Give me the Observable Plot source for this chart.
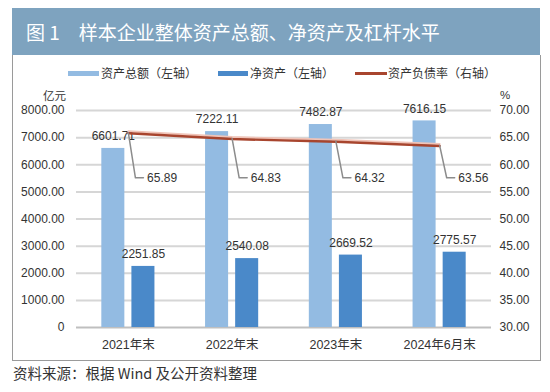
<!DOCTYPE html>
<html><head><meta charset="utf-8">
<script src="https://cdn.jsdelivr.net/npm/d3@7"></script>
<script src="https://cdn.jsdelivr.net/npm/@observablehq/plot@0.6"></script>
<style>
body{margin:0;background:#fff;font-family:"Liberation Sans","Noto Sans CJK SC",sans-serif;color:#333}
#wrap{position:relative;width:550px;height:392px;overflow:hidden;background:#fff}
#header{position:absolute;left:12px;top:8px;width:528px;height:47px;background:#7ea3bf;color:#fff;font-family:"Noto Sans CJK SC",sans-serif;font-size:19px;line-height:47px;white-space:nowrap}
#panel{position:absolute;left:12px;top:55px;width:527px;height:305px;border:1px solid #9a9a9a;border-top:none;pointer-events:none}
#chart{position:absolute;left:0;top:0}
.lg{position:absolute;font-family:"Noto Sans CJK SC",sans-serif;font-size:12px;line-height:14px;white-space:nowrap;color:#333}
.sw{position:absolute}
.note{position:absolute;font-family:"Noto Sans CJK SC",sans-serif;white-space:nowrap;color:#333}
</style></head>
<body><div id="wrap">
<div id="chart"></div>
<div id="header"><span style="margin-left:14px">图 1</span><span style="margin-left:19px">样本企业整体资产总额、净资产及杠杆水平</span></div>
<div id="panel"></div>
<div class="sw" style="left:68px;top:71px;width:31px;height:5px;background:#93bbe2"></div>
<div class="lg" style="left:101px;top:66px">资产总额（左轴）</div>
<div class="sw" style="left:218px;top:71px;width:30px;height:5px;background:#4a89c9"></div>
<div class="lg" style="left:250px;top:66px">净资产（左轴）</div>
<div class="sw" style="left:355px;top:72px;width:32px;height:3px;background:#a8452e"></div>
<div class="lg" style="left:388px;top:66px">资产负债率（右轴）</div>
<div class="note" style="left:43px;top:88px;font-size:11.5px;line-height:14px">亿元</div>
<div class="note" style="left:500px;top:88px;font-size:11.5px;line-height:14px;font-family:'Liberation Sans',sans-serif">%</div>
<div class="note" style="left:13px;top:364px;font-size:14.5px;line-height:18px">资料来源：根据 Wind 及公开资料整理</div>
</div>
<script>
const categories = ["2021年末", "2022年末", "2023年末", "2024年6月末"];
const totalAssets = [6601.71, 7222.11, 7482.87, 7616.15];
const netAssets = [2251.85, 2540.08, 2669.52, 2775.57];
const debtRatio = [65.89, 64.83, 64.32, 63.56];
const leftTicks = [0, 1000, 2000, 3000, 4000, 5000, 6000, 7000, 8000];
const rightTicks = [30, 35, 40, 45, 50, 55, 60, 65, 70];

const idx = categories.map((_, i) => i);
const rMin = 30, rMax = 70, lMax = 8000;
const toY = r => (r - rMin) / (rMax - rMin) * lMax;
const fromY = v => v / lMax * (rMax - rMin) + rMin;
const labelLevel = 57.6;

const leaders = idx.flatMap(i => [
  {k: i, x: i, y: toY(debtRatio[i])},
  {k: i, x: i + 0.068, y: toY(labelLevel)},
  {k: i, x: i + 0.145, y: toY(labelLevel)}
]);

const chart = Plot.plot({
  width: 550, height: 392,
  marginLeft: 76, marginRight: 59, marginTop: 110, marginBottom: 65,
  x: {type: "linear", domain: [-0.5, 3.5]},
  y: {domain: [0, lMax]},
  style: {background: "transparent", fontFamily: "'Liberation Sans','Noto Sans CJK SC',sans-serif", fontSize: "12px", color: "#333"},
  marks: [
    Plot.ruleY(leftTicks.filter(v => v > 0), {stroke: "#d6d6d6", strokeWidth: 2}),
    Plot.ruleY([0], {stroke: "#bfbfbf", strokeWidth: 2}),
    Plot.axisY(leftTicks, {anchor: "left", tickSize: 0, tickPadding: 12, label: null, fontSize: 12,
      tickFormat: d => d === 0 ? "0" : d.toFixed(2)}),
    Plot.axisY(rightTicks.map(toY), {anchor: "right", tickSize: 0, tickPadding: 8, label: null, fontSize: 12,
      tickFormat: d => fromY(d).toFixed(2)}),
    Plot.axisX(idx, {tickSize: 0, tickPadding: 13, label: null, fontSize: 12.5, tickFormat: i => categories[i]}),
    Plot.rect(idx, {x1: i => i - 0.256, x2: i => i - 0.034, y1: 0, y2: i => totalAssets[i], fill: "#93bbe2"}),
    Plot.rect(idx, {x1: i => i + 0.034, x2: i => i + 0.256, y1: 0, y2: i => netAssets[i], fill: "#4a89c9"}),
    Plot.text(idx, {x: i => i - 0.145, y: i => totalAssets[i], dy: -12, text: i => totalAssets[i].toFixed(2), fontSize: 12, fill: "#333"}),
    Plot.text(idx, {x: i => i + 0.145, y: i => netAssets[i], dy: -12, text: i => netAssets[i].toFixed(2), fontSize: 12, fill: "#333"}),
    Plot.line(idx, {x: i => i, y: i => toY(debtRatio[i]), stroke: "#f0c4b8", strokeWidth: 2, dy: -1.5}),
    Plot.line(idx, {x: i => i, y: i => toY(debtRatio[i]), stroke: "#a8452e", strokeWidth: 2.4, dy: 0.5}),
    Plot.line(leaders, {x: "x", y: "y", z: "k", stroke: "#8c8c8c", strokeWidth: 1.5}),
    Plot.text(idx, {x: i => i + 0.18, y: toY(labelLevel), text: i => debtRatio[i].toFixed(2), textAnchor: "start", fontSize: 12, fill: "#333"})
  ]
});
document.getElementById("chart").appendChild(chart);
</script>
</body></html>
